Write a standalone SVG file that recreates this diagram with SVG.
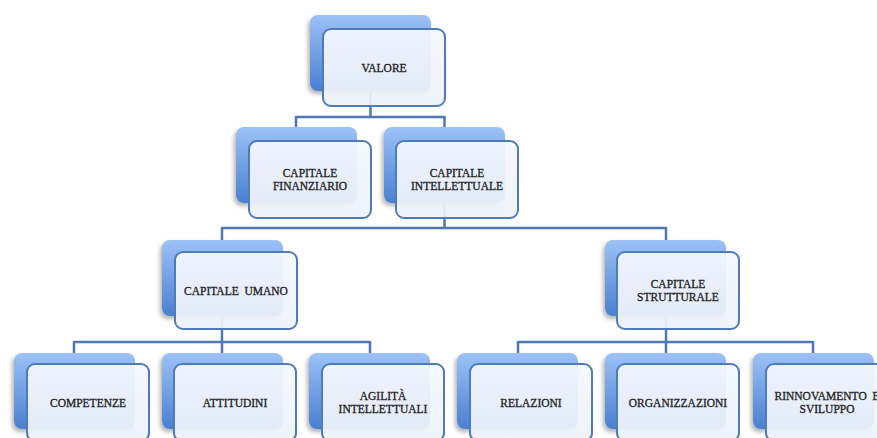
<svg xmlns="http://www.w3.org/2000/svg" width="877" height="438" viewBox="0 0 877 438">
<defs>
<linearGradient id="gBack" x1="0" y1="0" x2="0" y2="1">
<stop offset="0" stop-color="#9cc2f7"/>
<stop offset="1" stop-color="#4a7fd0"/>
</linearGradient>
<linearGradient id="gFront" x1="0" y1="0" x2="0" y2="1">
<stop offset="0" stop-color="#f5f8fd"/>
<stop offset="1" stop-color="#edf2fa"/>
</linearGradient>
<filter id="sh" x="-20%" y="-20%" width="140%" height="150%">
<feDropShadow dx="-2" dy="3" stdDeviation="2" flood-color="#000" flood-opacity="0.3"/>
</filter>
<rect id="bk" width="121" height="76" rx="8"/>
<rect id="fr" width="122" height="77" rx="8"/>
</defs>
<style>
.back{fill:url(#gBack);filter:url(#sh);}
.front{fill:url(#gFront);fill-opacity:0.93;stroke:#4f7bbb;stroke-width:2;}
.t{font-family:"Liberation Serif","Times New Roman",serif;font-size:11.5px;fill:#222;stroke:#222;stroke-width:0.3;text-anchor:middle;white-space:pre;}
.c{fill:none;stroke:#4f79b5;stroke-width:2.5;}
</style>
<rect width="877" height="438" fill="#ffffff"/>

<g id="backs">
<use href="#bk" x="310" y="15" class="back"/>
<use href="#bk" x="236" y="127" class="back"/>
<use href="#bk" x="384" y="127" class="back"/>
<use href="#bk" x="162" y="240" class="back"/>
<use href="#bk" x="605" y="240" class="back"/>
<use href="#bk" x="14" y="353" class="back"/>
<use href="#bk" x="162" y="353" class="back"/>
<use href="#bk" x="309" y="353" class="back"/>
<use href="#bk" x="457" y="353" class="back"/>
<use href="#bk" x="605" y="353" class="back"/>
<use href="#bk" x="753" y="353" class="back"/>
</g>

<g id="connectors">
<path class="c" d="M370.5 91 V117 M296 117 H444.5 M296 116 V127 M444.5 116 V127"/>
<path class="c" d="M444.5 203 V228 M222 228 H666 M222 227 V240 M666 227 V240"/>
<path class="c" d="M222 316 V342 M74 342 H370 M74 341 V353 M222 341 V353 M370 341 V353"/>
<path class="c" d="M666 316 V342 M518 342 H813 M518 341 V353 M666 341 V353 M813 341 V353"/>
</g>

<g id="valore"><use href="#fr" x="323" y="29" class="front"/><text class="t" x="384" y="71.5">VALORE</text></g>
<g id="capitale-finanziario"><use href="#fr" x="249" y="141" class="front"/><text class="t" x="310" y="177">CAPITALE</text><text class="t" x="310" y="190">FINANZIARIO</text></g>
<g id="capitale-intellettuale"><use href="#fr" x="396" y="141" class="front"/><text class="t" x="457" y="177">CAPITALE</text><text class="t" x="457" y="190">INTELLETTUALE</text></g>
<g id="capitale-umano"><use href="#fr" x="175" y="252" class="front"/><text class="t" x="236" y="294.5" xml:space="preserve">CAPITALE  UMANO</text></g>
<g id="capitale-strutturale"><use href="#fr" x="617" y="252" class="front"/><text class="t" x="678" y="288">CAPITALE</text><text class="t" x="678" y="301">STRUTTURALE</text></g>
<g id="competenze"><use href="#fr" x="27" y="364" class="front"/><text class="t" x="88" y="406.5">COMPETENZE</text></g>
<g id="attitudini"><use href="#fr" x="174" y="364" class="front"/><text class="t" x="235" y="406.5">ATTITUDINI</text></g>
<g id="agilita"><use href="#fr" x="322" y="364" class="front"/><text class="t" x="383" y="400">AGILITÀ</text><text class="t" x="383" y="413">INTELLETTUALI</text></g>
<g id="relazioni"><use href="#fr" x="470" y="364" class="front"/><text class="t" x="531" y="406.5">RELAZIONI</text></g>
<g id="organizzazioni"><use href="#fr" x="617" y="364" class="front"/><text class="t" x="678" y="406.5">ORGANIZZAZIONI</text></g>
<g id="rinnovamento"><use href="#fr" x="766" y="364" class="front"/><text class="t" x="827" y="400" xml:space="preserve">RINNOVAMENTO  E</text><text class="t" x="827" y="413">SVILUPPO</text></g>
</svg>
